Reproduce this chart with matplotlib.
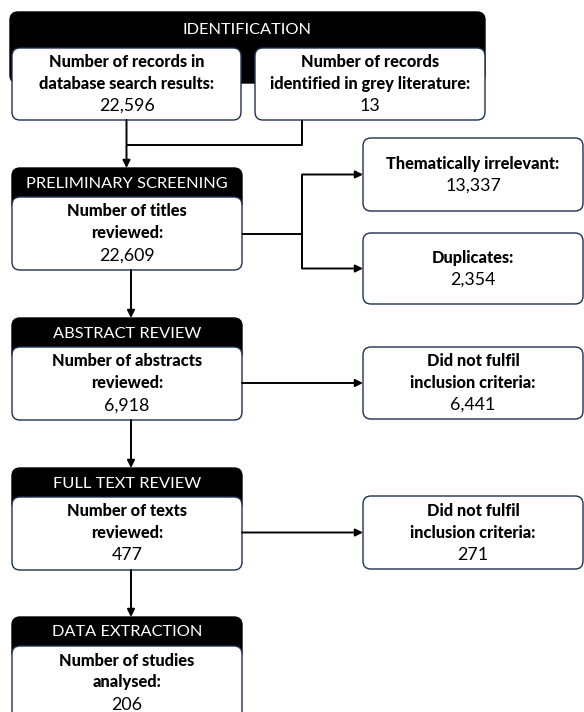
"""Flow diagram of record selection, redrawn in pixel coordinates."""

import matplotlib

matplotlib.use("Agg")

import matplotlib.pyplot as plt
from matplotlib.patches import FancyBboxPatch

plt.rcParams["font.family"] = ["Lato", "DejaVu Sans"]

# --- data ---------------------------------------------------------------
SOURCE_HEADER = "IDENTIFICATION"
SOURCE_LABELS = ["Number of records in\ndatabase search results:",
                 "Number of records\nidentified in grey literature:"]
SOURCE_COUNTS = [22596, 13]

STAGE_TITLES = ["PRELIMINARY SCREENING", "ABSTRACT REVIEW",
                "FULL TEXT REVIEW", "DATA EXTRACTION"]
STAGE_LABELS = ["Number of titles\nreviewed:", "Number of abstracts\nreviewed:",
                "Number of texts\nreviewed:", "Number of studies\nanalysed:"]
STAGE_COUNTS = [22609, 6918, 477, 206]

EXCL_LABELS = ["Thematically irrelevant:", "Duplicates:",
               "Did not fulfil\ninclusion criteria:", "Did not fulfil\ninclusion criteria:"]
EXCL_COUNTS = [13337, 2354, 6441, 271]
EXCL_STAGE = [0, 0, 1, 2]

# --- layout (pixels, origin top-left) -------------------------------------
W, H = 584, 712
EDGE = "#1f3050"
FS = 11.8
FS_NUM = 12.8
LINE = 22
R = 8

STAGE_X = (12, 242)
STAGE_TOP = [168, 318, 468, 617]
HEAD_H = 29
STAGE_H = 102
EXCL_X = (363, 583)
EXCL_Y = [(138, 211), (233, 304), (347, 419), (496, 569)]
BRANCH_X = 302


def rbox(ax, x0, y0, x1, y1, face, edge=EDGE, lw=1.0, z=1):
    p = FancyBboxPatch((x0, y0), x1 - x0, y1 - y0,
                       boxstyle=f"round,pad=0,rounding_size={R}",
                       fc=face, ec=edge, lw=lw, zorder=z)
    ax.add_patch(p)


def box_text(ax, xc, yc, label, count):
    lines = [(s, "black", FS) for s in label.split("\n")]
    lines.append((f"{count:,}", "normal", FS_NUM))
    y = yc - LINE * (len(lines) - 1) / 2
    for s, wt, fs in lines:
        ax.text(xc, y, s, ha="center", va="center", fontsize=fs,
                fontweight=wt, color="black", zorder=5)
        y += LINE


def arrow(ax, x0, y0, x1, y1):
    ax.annotate("", xy=(x1, y1), xytext=(x0, y0),
                arrowprops=dict(arrowstyle="-|>", color="black", lw=1.4,
                                mutation_scale=11, shrinkA=0, shrinkB=0),
                zorder=4)


def line(ax, xs, ys):
    ax.plot(xs, ys, color="black", lw=1.4, solid_capstyle="butt", zorder=3)


def main() -> None:
    fig = plt.figure(figsize=(W / 100, H / 100), dpi=100)
    ax = fig.add_axes([0, 0, 1, 1])
    ax.set_xlim(0, W)
    ax.set_ylim(H, 0)
    ax.axis("off")

    # identification block
    rbox(ax, 10, 12, 485, 83, "black", edge="black")
    ax.text(247.5, 30, SOURCE_HEADER, ha="center", va="center",
            fontsize=FS, color="white", zorder=5)
    src_x = [(12, 241), (255, 485)]
    for (x0, x1), lab, n in zip(src_x, SOURCE_LABELS, SOURCE_COUNTS):
        rbox(ax, x0, 48, x1, 120, "white", z=2)
        box_text(ax, (x0 + x1) / 2, 84, lab, n)

    # merge into first stage
    left_c = (src_x[0][0] + src_x[0][1]) / 2
    right_c = BRANCH_X
    line(ax, [right_c, right_c, left_c], [120, 145, 145])
    arrow(ax, left_c, 120, left_c, STAGE_TOP[0])

    # stages
    xc = (STAGE_X[0] + STAGE_X[1]) / 2
    for i, (t, lab, n) in enumerate(zip(STAGE_TITLES, STAGE_LABELS, STAGE_COUNTS)):
        top = STAGE_TOP[i]
        rbox(ax, STAGE_X[0], top, STAGE_X[1], top + HEAD_H + 14, "black", edge="black")
        ax.text(xc, top + HEAD_H / 2 + 1, t, ha="center", va="center",
                fontsize=FS, color="white", zorder=5)
        rbox(ax, STAGE_X[0], top + HEAD_H, STAGE_X[1], top + STAGE_H, "white", z=2)
        box_text(ax, xc, top + HEAD_H + (STAGE_H - HEAD_H) / 2, lab, n)
        if i < len(STAGE_TITLES) - 1:
            arrow(ax, xc + 4, top + STAGE_H, xc + 4, STAGE_TOP[i + 1])

    # exclusions
    ex_c = (EXCL_X[0] + EXCL_X[1]) / 2
    for (y0, y1), lab, n in zip(EXCL_Y, EXCL_LABELS, EXCL_COUNTS):
        rbox(ax, EXCL_X[0], y0, EXCL_X[1], y1, "white", z=2)
        box_text(ax, ex_c, (y0 + y1) / 2, lab, n)

    for s in sorted(set(EXCL_STAGE)):
        idx = [k for k, st in enumerate(EXCL_STAGE) if st == s]
        ys = [(EXCL_Y[k][0] + EXCL_Y[k][1]) / 2 for k in idx]
        top = STAGE_TOP[s]
        ym = top + HEAD_H + (STAGE_H - HEAD_H) / 2
        if len(idx) == 1:
            arrow(ax, STAGE_X[1], ys[0], EXCL_X[0], ys[0])
        else:
            line(ax, [STAGE_X[1], BRANCH_X], [ym, ym])
            line(ax, [BRANCH_X, BRANCH_X], [min(ys), max(ys)])
            for y in ys:
                arrow(ax, BRANCH_X, y, EXCL_X[0], y)

    fig.savefig("out.png", dpi=100, facecolor="white")
    plt.close(fig)


if __name__ == "__main__":
    main()
